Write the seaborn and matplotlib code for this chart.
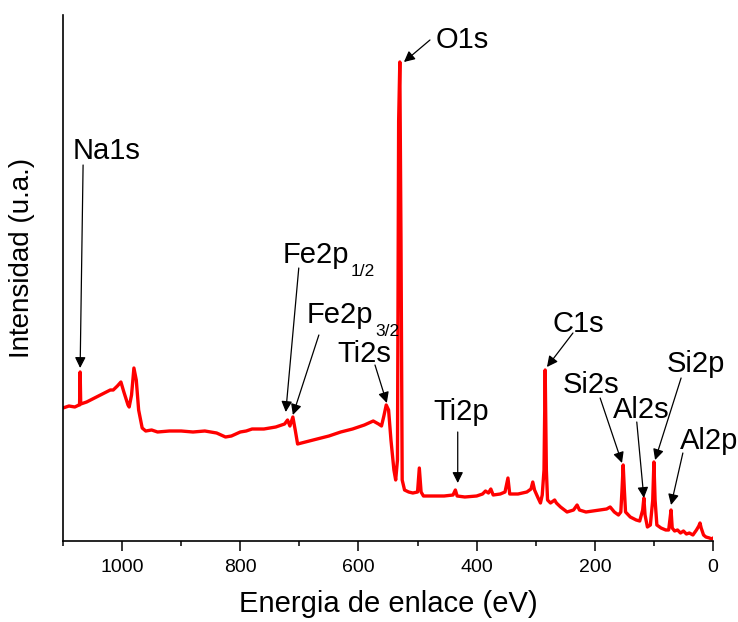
"""
XPS survey spectrum with labelled photoelectron peaks.
"""

import pandas as pd
import seaborn as sns
import matplotlib.pyplot as plt
import matplotlib.transforms as mtransforms
from matplotlib.ticker import MultipleLocator

# binding energy (eV) and intensity (a.u.)
energy = [1100, 1090, 1080, 1073, 1072, 1071, 1070, 1060, 1050, 1040, 1030, 1020,
          1015, 1008, 1002, 997, 990, 988, 984, 980, 976, 972, 966, 960, 950, 940,
          920, 900, 880, 860, 840, 825, 815, 800, 790, 780, 760, 740, 725, 720,
          716, 711, 707, 703, 690, 670, 650, 630, 610, 590, 575, 566, 561, 557,
          553, 549, 545, 540, 537, 534, 532, 530, 528, 526, 522, 515, 508, 500,
          497, 494, 490, 470, 455, 440, 436, 433, 420, 400, 390, 385, 380, 376,
          372, 360, 352, 347, 344, 330, 315, 308, 305, 302, 296, 292, 289, 286,
          284, 282, 280, 275, 268, 265, 258, 247, 236, 230, 226, 215, 203, 190,
          180, 174, 167, 160, 156, 154, 152, 150, 148, 140, 130, 124, 119, 117,
          115, 111, 106, 102, 100, 98, 95, 88, 80, 75, 73, 71, 69, 65, 60, 55,
          50, 45, 40, 34, 28, 24, 22, 20, 16, 12, 6, 2, 0]
intensity = [133, 135, 134, 136, 136, 169, 137, 139, 142, 145, 148, 151,
             151, 155, 159, 149, 136, 134, 146, 173, 161, 131, 113, 110, 111, 109,
             110, 110, 109, 110, 108, 104, 105, 109, 110, 112, 112, 114, 117, 121,
             115, 124, 111, 97, 99, 102, 105, 109, 112, 116, 120, 117, 115, 125,
             136, 131, 101, 71, 61, 81, 420, 479, 300, 61, 51, 49, 48, 49,
             73, 49, 45, 45, 45, 46, 51, 45, 44, 45, 47, 50, 48, 52,
             46, 47, 49, 63, 47, 47, 49, 52, 59, 51, 43, 38, 46, 71,
             171, 71, 41, 38, 41, 38, 34, 29, 31, 36, 31, 29, 30, 31,
             32, 34, 29, 26, 29, 51, 76, 51, 29, 24, 21, 20, 31, 43,
             26, 14, 16, 41, 79, 41, 16, 13, 11, 11, 21, 31, 13, 10, 11, 8,
             10, 7, 8, 6, 11, 15, 18, 13, 6, 4, 3, 2, 3]

# peak labels (with optional subscript): text anchor (left, baseline),
# arrow start -> arrow tip
labels = ["Na1s", "O1s", "Fe2p", "Fe2p", "Ti2s",
          "Ti2p", "C1s", "Si2s", "Al2s", "Si2p", "Al2p"]
subscripts = ["", "", "1/2", "3/2", "", "", "", "", "", "", ""]
text_xy = [(1083, 382), (470, 493), (728, 278), (687, 218), (635, 179),
           (474, 121), (271, 209), (254, 148), (169, 123), (78, 169), (56, 92)]
arrow_from = [(1066, 376), (479, 501), (701, 273), (667, 206), (572, 176),
              (432, 109), (237, 208), (191, 143), (129, 119), (54, 163), (51, 88)]
arrow_to = [(1071, 173), (523, 479), (723, 129), (711, 126), (552, 138),
            (432, 58), (281, 174), (154, 78), (117, 43), (98, 81), (71, 36)]


def main():
    df = pd.DataFrame({"Energy": energy, "Intensity": intensity})

    sns.set_style("ticks")
    plt.rcParams["font.family"] = ["Liberation Sans", "DejaVu Sans"]
    plt.rcParams["text.color"] = "black"
    plt.rcParams["axes.labelcolor"] = "black"

    fig = plt.figure(figsize=(7.38, 6.22), dpi=100)
    ax = fig.add_axes([63 / 738, 1 - 541 / 622, 650 / 738, 526 / 622])

    sns.lineplot(data=df, x="Energy", y="Intensity", color="#ff0000", lw=2.4,
                 estimator=None, sort=False, ax=ax)

    ax.set_xlim(1100, 0)
    ax.set_ylim(0, 526)
    ax.xaxis.set_major_locator(MultipleLocator(200))
    ax.xaxis.set_minor_locator(MultipleLocator(100))
    ax.set_yticks([])
    ax.tick_params(axis="x", which="major", length=7, width=1.1, colors="black",
                   labelsize=14, pad=6)
    ax.tick_params(axis="x", which="minor", length=3.5, width=1.1, colors="black")
    for side in ["top", "right"]:
        ax.spines[side].set_visible(False)
    for side in ["left", "bottom"]:
        ax.spines[side].set_color("black")
        ax.spines[side].set_linewidth(1.2)

    ax.set_xlabel("Energia de enlace (eV)", fontsize=21)
    ax.set_ylabel("Intensidad (u.a.)", fontsize=20)
    ax.xaxis.set_label_coords(0.5, -0.093)
    ax.yaxis.set_label_coords(-0.043, 0.538)

    renderer = fig.canvas.get_renderer()
    for lab, sub, txy, a0, a1 in zip(labels, subscripts, text_xy, arrow_from, arrow_to):
        t = ax.text(txy[0], txy[1], lab, fontsize=21, ha="left", va="baseline")
        if sub:
            # subscript placed right after the main label, shifted down
            w = t.get_window_extent(renderer).width * 72 / fig.dpi
            tr = mtransforms.offset_copy(ax.transData, fig=fig, x=w + 1, y=-9.5,
                                         units="points")
            ax.text(txy[0], txy[1], sub, fontsize=12.5, ha="left", va="baseline",
                    transform=tr)
        ax.annotate("", xy=a1, xytext=a0,
                    arrowprops=dict(arrowstyle="-|>", color="black", lw=0.9,
                                    mutation_scale=16, shrinkA=0, shrinkB=0))

    fig.savefig("out.png", dpi=100)
    plt.close(fig)


if __name__ == "__main__":
    main()
